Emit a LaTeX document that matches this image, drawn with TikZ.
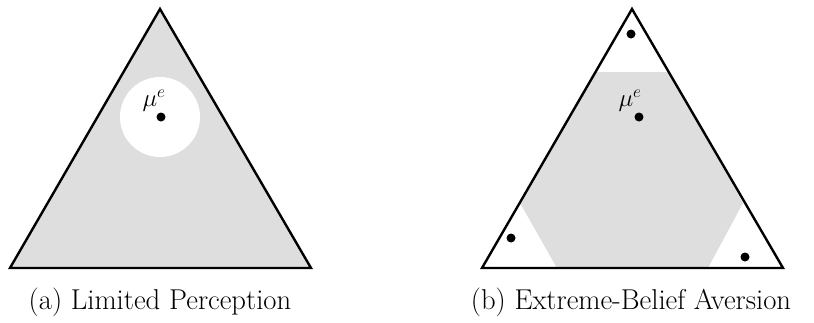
\documentclass[tikz,border=0pt]{standalone}
\begin{document}
\begin{tikzpicture}[x=1pt,y=-1pt, font=\fontsize{28.7}{34}\selectfont,
  tri/.style={draw=black, line width=2.4pt, line join=miter},
  shadefill/.style={fill=black!13},
  dot/.style={circle, fill=black, inner sep=0pt, minimum size=9pt},
  lab/.style={inner sep=0pt, font=\fontsize{26}{30}\selectfont}]
\useasboundingbox (0,0) rectangle (814,322);
% (a) Limited Perception
\coordinate (A1) at (160,9);
\coordinate (A2) at (10,268);
\coordinate (A3) at (311,268);
\fill[shadefill] (A1) -- (A2) -- (A3) -- cycle;
\fill[white] (160,117) circle (40);
\draw[tri] (A1) -- (A2) -- (A3) -- cycle;
\node[dot] (me1) at (161,117) {};
\node[lab] (l1) at (154,101) {$\mu^e$};
\node[anchor=base] (cap1) at (160,309.5) {(a) Limited Perception};
% (b) Extreme-Belief Aversion
\coordinate (B1) at (632,9);
\coordinate (B2) at (482,268);
\coordinate (B3) at (783,268);
\fill[shadefill] (594,72) -- (669,72) -- (743,203) -- (708,268) -- (557,268) -- (520,203) -- cycle;
\draw[tri] (B1) -- (B2) -- (B3) -- cycle;
\node[dot] (me2) at (639,117) {};
\node[lab] (l2) at (630,101) {$\mu^e$};
\node[dot] (d1) at (631,34) {};
\node[dot] (d2) at (511,238) {};
\node[dot] (d3) at (745,257) {};
\node[anchor=base] (cap2) at (631,309.5) {(b) Extreme-Belief Aversion};
\end{tikzpicture}
\end{document}
